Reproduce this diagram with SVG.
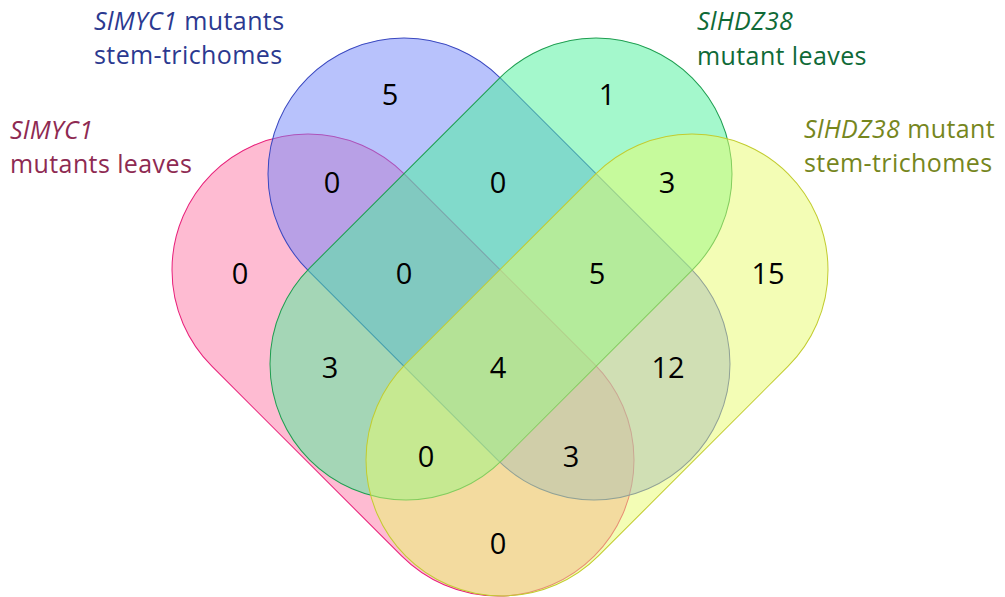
<svg xmlns="http://www.w3.org/2000/svg" width="1005" height="597" viewBox="0 0 1005 597">
  <style>
    .set { stroke-width: 1; fill-opacity: 0.5; }
    .num { font-family: "Open Sans", "Liberation Sans", sans-serif; font-size: 29px; fill: #000; text-anchor: middle; }
    .lbl { font-family: "Open Sans", "Liberation Sans", sans-serif; font-size: 25px; letter-spacing: 0.4px; }
    .it { font-style: italic; }
  </style>
  <rect width="1005" height="597" fill="#fff"/>

  <!-- four capsule-shaped sets, each 272 wide with round ends -->
  <g id="set-myc1-leaves">
    <rect class="set" x="-136" y="-136" width="540.7" height="272" rx="136" transform="translate(308 270) rotate(45)" fill="#FD77A5" stroke="#E8207A"/>
  </g>
  <g id="set-myc1-stem">
    <rect class="set" x="-136" y="-136" width="540.7" height="272" rx="136" transform="translate(404 174) rotate(45)" fill="#7185F9" stroke="#3A48C0"/>
  </g>
  <g id="set-hdz38-leaves">
    <rect class="set" x="-136" y="-136" width="540.7" height="272" rx="136" transform="translate(596 174) rotate(135)" fill="#49F199" stroke="#1E9E50"/>
  </g>
  <g id="set-hdz38-stem">
    <rect class="set" x="-136" y="-136" width="540.7" height="272" rx="136" transform="translate(692 270) rotate(135)" fill="#E7FB6B" stroke="#C2CC30"/>
  </g>

  <g id="connectors"></g>

  <!-- region counts -->
  <g id="counts">
    <text class="num" x="390" y="105">5</text>
    <text class="num" x="607" y="105">1</text>
    <text class="num" x="332" y="193">0</text>
    <text class="num" x="498" y="193">0</text>
    <text class="num" x="667" y="193">3</text>
    <text class="num" x="240" y="284">0</text>
    <text class="num" x="404" y="284">0</text>
    <text class="num" x="597" y="284">5</text>
    <text class="num" x="768" y="284">15</text>
    <text class="num" x="330" y="378">3</text>
    <text class="num" x="498" y="378">4</text>
    <text class="num" x="668" y="378">12</text>
    <text class="num" x="426" y="467">0</text>
    <text class="num" x="571" y="467">3</text>
    <text class="num" x="498" y="554">0</text>
  </g>

  <!-- set labels -->
  <g id="label-myc1-leaves" class="lbl" fill="#8E2A52">
    <text x="10" y="139" class="it">SlMYC1</text>
    <text x="10" y="173">mutants leaves</text>
  </g>
  <g id="label-myc1-stem" class="lbl" fill="#2B3990">
    <text x="94" y="30"><tspan class="it">SlMYC1</tspan> mutants</text>
    <text x="94" y="64">stem-trichomes</text>
  </g>
  <g id="label-hdz38-leaves" class="lbl" fill="#0F6A37">
    <text x="697" y="30" class="it">SlHDZ38</text>
    <text x="697" y="65">mutant leaves</text>
  </g>
  <g id="label-hdz38-stem" class="lbl" fill="#76861D">
    <text x="804" y="138"><tspan class="it">SlHDZ38</tspan> mutant</text>
    <text x="804" y="172">stem-trichomes</text>
  </g>
</svg>
